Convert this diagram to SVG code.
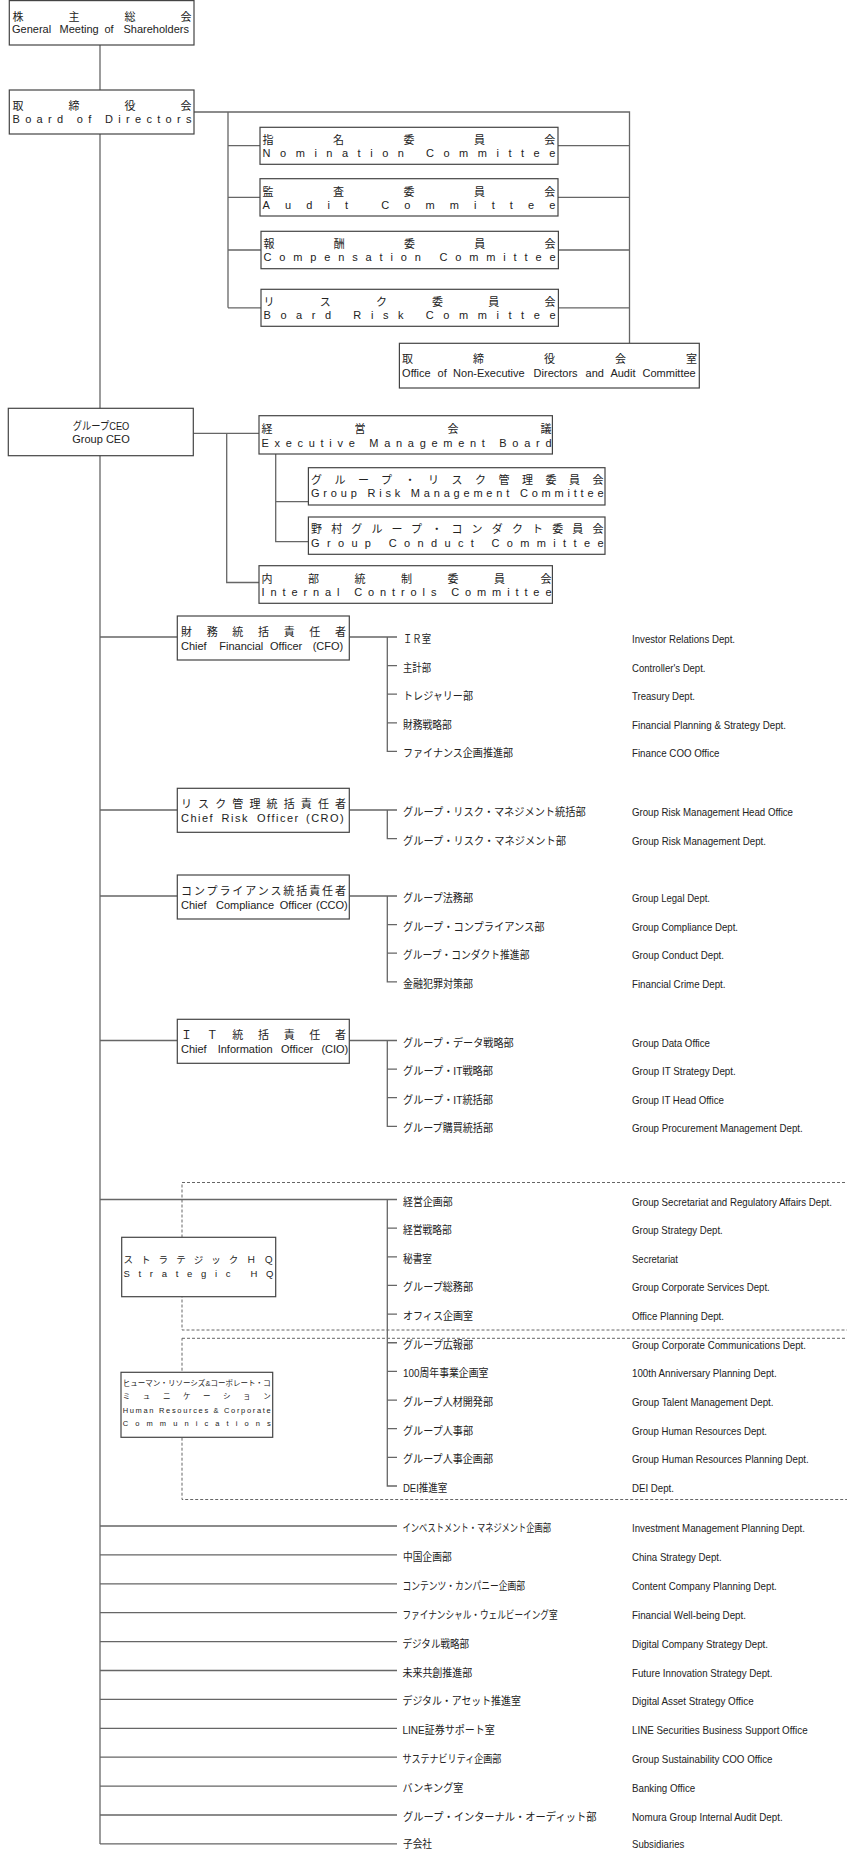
<svg xmlns="http://www.w3.org/2000/svg" width="847" height="1850" viewBox="0 0 847 1850">
<style>
.box{fill:#fff;stroke:#444;stroke-width:1.2}
.ln{fill:none;stroke:#666;stroke-width:1.3}
.dash{fill:none;stroke:#666;stroke-width:1;stroke-dasharray:3 2}
text{font-family:"Liberation Sans","Noto Sans CJK JP",Arial,sans-serif;fill:#222}
.h{font-size:11px}
.s{font-size:9.5px}
.xs{font-size:7.5px}
.l{font-size:11px}
</style>
<rect width="847" height="1850" fill="#fff"/>
<g id="frames">
<rect class="dash" x="182" y="1182.5" width="700" height="147.5"/>
<rect class="dash" x="182" y="1338.3" width="700" height="161.2"/>
</g>
<g id="connectors">
<path class="ln" d="M100 45V1844"/>
<path class="ln" d="M194 112H629.5V343.3M228 112V307.8M228 145.7H260M228 197.3H260M228 250H261M228 307.8H261M558 145.7H629.5M558 197.3H629.5M558.4 250H629.5M558.4 307.8H629.5"/>
<path class="ln" d="M193.3 433.3H259M226.7 433.3V582.5H259M275.7 454V541.7H308.4M275.7 501.7H308.4"/>
<path class="ln" d="M100 637H177.3M349.3 637H397M387.3 637V751.4H397M387.3 665.6H397M387.3 694.2H397M387.3 722.8H397"/>
<path class="ln" d="M100 810H177.3M349.3 810H397M387.3 810V838.6H397"/>
<path class="ln" d="M100 896H177.3M349.3 896H397M387.3 896V981.8H397M387.3 924.6H397M387.3 953.2H397"/>
<path class="ln" d="M100 1040.5H177.3M349.3 1040.5H397M387.3 1040.5V1126.3H397M387.3 1069.1H397M387.3 1097.7H397"/>
<path class="ln" d="M100 1199.5H397M387.3 1199.5V1486H397M387.3 1228.15H397M387.3 1256.8H397M387.3 1285.45H397M387.3 1314.1H397M387.3 1342.75H397M387.3 1371.4H397M387.3 1400.05H397M387.3 1428.7H397M387.3 1457.35H397"/>
<path class="ln" d="M100 1526H397M100 1554.9H397M100 1583.8H397M100 1612.7H397M100 1641.6H397M100 1670.5H397M100 1699.4H397M100 1728.3H397M100 1757.2H397M100 1786.1H397M100 1815H397M100 1843.9H397"/>
</g>
<g id="gm">
<rect class="box" x="9.3" y="0.6" width="184.7" height="44.4"/>
<text class="h" x="12.5" y="21" textLength="179" lengthAdjust="spacing">株主総会</text>
<text class="h" y="32.7"><tspan x="12">General</tspan><tspan x="59.5">Meeting</tspan><tspan x="104.5">of</tspan><tspan x="123.5">Shareholders</tspan></text>
</g>
<g id="board">
<rect class="box" x="9.3" y="90" width="184.7" height="44"/>
<text class="h" x="12.5" y="110" textLength="179" lengthAdjust="spacing">取締役会</text>
<text class="h" x="12.5" y="122.7" textLength="179" lengthAdjust="spacing">Board of Directors</text>
</g>
<g id="nomination">
<rect class="box" x="260" y="127.3" width="298" height="37"/>
<text class="h" x="262.6" y="144" textLength="292.7" lengthAdjust="spacing">指名委員会</text>
<text class="h" x="262.6" y="157" textLength="292.7" lengthAdjust="spacing">Nomination Committee</text>
</g>
<g id="audit">
<rect class="box" x="260" y="178.7" width="298" height="37.3"/>
<text class="h" x="262.6" y="195.6" textLength="292.7" lengthAdjust="spacing">監査委員会</text>
<text class="h" x="262.6" y="208.5" textLength="292.7" lengthAdjust="spacing">Audit Committee</text>
</g>
<g id="compensation">
<rect class="box" x="261" y="231.3" width="297.4" height="37.4"/>
<text class="h" x="263.5" y="248.3" textLength="292" lengthAdjust="spacing">報酬委員会</text>
<text class="h" x="263.5" y="261" textLength="292" lengthAdjust="spacing">Compensation Committee</text>
</g>
<g id="risk">
<rect class="box" x="261" y="289.3" width="297.4" height="37"/>
<text class="h" x="263.5" y="305.5" textLength="292" lengthAdjust="spacing">リスク委員会</text>
<text class="h" x="263.5" y="318.5" textLength="292" lengthAdjust="spacing">Board Risk Committee</text>
</g>
<g id="office">
<rect class="box" x="399.4" y="343.3" width="299.9" height="44.7"/>
<text class="h" x="402" y="363.3" textLength="295" lengthAdjust="spacing">取締役会室</text>
<text class="h" y="377"><tspan x="402.1">Office</tspan><tspan x="437.6">of</tspan><tspan x="453.1">Non-Executive</tspan><tspan x="533.6">Directors</tspan><tspan x="585.6">and</tspan><tspan x="610.4">Audit</tspan><tspan x="642.5">Committee</tspan></text>
</g>
<g id="ceo">
<rect class="box" x="8.3" y="408.3" width="185" height="47.4"/>
<text class="h" x="72.7" y="430" textLength="56.6" lengthAdjust="spacingAndGlyphs">グループCEO</text>
<text class="h" x="101" y="442.7" text-anchor="middle">Group CEO</text>
</g>
<g id="emb">
<rect class="box" x="259" y="415.7" width="293.4" height="38.3"/>
<text class="h" x="261.5" y="433.3" textLength="290" lengthAdjust="spacing">経営会議</text>
<text class="h" x="261.5" y="447" textLength="290" lengthAdjust="spacing">Executive Management Board</text>
</g>
<g id="grmc">
<rect class="box" x="308.4" y="467.7" width="296.6" height="37.3"/>
<text class="h" x="311" y="484.3" textLength="292.5" lengthAdjust="spacing">グループ・リスク管理委員会</text>
<text class="h" x="311" y="497" textLength="292.5" lengthAdjust="spacing">Group Risk Management Committee</text>
</g>
<g id="conduct">
<rect class="box" x="308.4" y="517" width="296.6" height="37.3"/>
<text class="h" x="311" y="533.3" textLength="292.5" lengthAdjust="spacing">野村グループ・コンダクト委員会</text>
<text class="h" x="311" y="546.7" textLength="292.5" lengthAdjust="spacing">Group Conduct Committee</text>
</g>
<g id="internal">
<rect class="box" x="259" y="565.7" width="293.4" height="37.6"/>
<text class="h" x="261.5" y="582.7" textLength="290" lengthAdjust="spacing">内部統制委員会</text>
<text class="h" x="261.5" y="596" textLength="290" lengthAdjust="spacing">Internal Controls Committee</text>
</g>
<g id="cfo">
<rect class="box" x="177.3" y="616" width="172" height="44"/>
<text class="h" x="181" y="636" textLength="165" lengthAdjust="spacing">財務統括責任者</text>
<text class="h" y="650"><tspan x="181">Chief</tspan><tspan x="219.3">Financial</tspan><tspan x="270">Officer</tspan><tspan x="312.7">(CFO)</tspan></text>
</g>
<g id="cro">
<rect class="box" x="177.3" y="788.3" width="172" height="44"/>
<text class="h" x="181" y="808.3" textLength="165" lengthAdjust="spacing">リスク管理統括責任者</text>
<text class="h" y="822.3" letter-spacing="1.5"><tspan x="181">Chief</tspan><tspan x="221.5">Risk</tspan><tspan x="257">Officer</tspan><tspan x="306">(CRO)</tspan></text>
</g>
<g id="cco">
<rect class="box" x="177.3" y="875" width="172" height="44"/>
<text class="h" x="181" y="895" textLength="165" lengthAdjust="spacing">コンプライアンス統括責任者</text>
<text class="h" y="909"><tspan x="181">Chief</tspan><tspan x="216">Compliance</tspan><tspan x="279.8">Officer</tspan><tspan x="316">(CCO)</tspan></text>
</g>
<g id="cio">
<rect class="box" x="177.3" y="1019.3" width="172" height="44"/>
<text class="h" x="181" y="1039.3" textLength="165" lengthAdjust="spacing">ＩＴ統括責任者</text>
<text class="h" y="1053.3"><tspan x="181">Chief</tspan><tspan x="217.7">Information</tspan><tspan x="281">Officer</tspan><tspan x="321.4">(CIO)</tspan></text>
</g>
<g id="strategic">
<rect class="box" x="121.7" y="1237.3" width="154" height="59.4"/>
<text class="s" x="123.5" y="1263.3" textLength="150" lengthAdjust="spacing">ストラテジックＨＱ</text>
<text class="s" x="123.5" y="1276.7" textLength="150" lengthAdjust="spacing">Strategic HQ</text>
</g>
<g id="hr">
<rect class="box" x="121" y="1372.3" width="151.7" height="65"/>
<text class="xs" x="122.7" y="1385.7" textLength="148" lengthAdjust="spacingAndGlyphs">ヒューマン・リソーシズ&amp;コーポレート・コ</text>
<text class="xs" x="122.7" y="1399.3" textLength="148" lengthAdjust="spacing">ミュニケーション</text>
<text class="xs" x="122.7" y="1412.7" textLength="148" lengthAdjust="spacing">Human Resources &amp; Corporate</text>
<text class="xs" x="122.7" y="1426" textLength="148" lengthAdjust="spacing">Communications</text>
</g>
<g id="depts-cfo">
<text class="l" x="403" y="643" textLength="28" lengthAdjust="spacingAndGlyphs">ＩＲ室</text>
<text class="l" x="632" y="643" textLength="103" lengthAdjust="spacingAndGlyphs">Investor Relations Dept.</text>
<text class="l" x="403" y="671.6" textLength="28" lengthAdjust="spacingAndGlyphs">主計部</text>
<text class="l" x="632" y="671.6" textLength="73.5" lengthAdjust="spacingAndGlyphs">Controller's Dept.</text>
<text class="l" x="403" y="700.2" textLength="70" lengthAdjust="spacingAndGlyphs">トレジャリー部</text>
<text class="l" x="632" y="700.2" textLength="63" lengthAdjust="spacingAndGlyphs">Treasury Dept.</text>
<text class="l" x="403" y="728.8" textLength="48.7" lengthAdjust="spacingAndGlyphs">財務戦略部</text>
<text class="l" x="632" y="728.8" textLength="154" lengthAdjust="spacingAndGlyphs">Financial Planning &amp; Strategy Dept.</text>
<text class="l" x="403" y="757.4" textLength="110" lengthAdjust="spacingAndGlyphs">ファイナンス企画推進部</text>
<text class="l" x="632" y="757.4" textLength="87.5" lengthAdjust="spacingAndGlyphs">Finance COO Office</text>
</g>
<g id="depts-cro">
<text class="l" x="403" y="816" textLength="182.6" lengthAdjust="spacingAndGlyphs">グループ・リスク・マネジメント統括部</text>
<text class="l" x="632" y="816" textLength="161" lengthAdjust="spacingAndGlyphs">Group Risk Management Head Office</text>
<text class="l" x="403" y="844.6" textLength="163" lengthAdjust="spacingAndGlyphs">グループ・リスク・マネジメント部</text>
<text class="l" x="632" y="844.6" textLength="134" lengthAdjust="spacingAndGlyphs">Group Risk Management Dept.</text>
</g>
<g id="depts-cco">
<text class="l" x="403" y="902" textLength="70" lengthAdjust="spacingAndGlyphs">グループ法務部</text>
<text class="l" x="632" y="902" textLength="78" lengthAdjust="spacingAndGlyphs">Group Legal Dept.</text>
<text class="l" x="403" y="930.6" textLength="141.5" lengthAdjust="spacingAndGlyphs">グループ・コンプライアンス部</text>
<text class="l" x="632" y="930.6" textLength="106" lengthAdjust="spacingAndGlyphs">Group Compliance Dept.</text>
<text class="l" x="403" y="959.2" textLength="126.4" lengthAdjust="spacingAndGlyphs">グループ・コンダクト推進部</text>
<text class="l" x="632" y="959.2" textLength="92" lengthAdjust="spacingAndGlyphs">Group Conduct Dept.</text>
<text class="l" x="403" y="987.8" textLength="70" lengthAdjust="spacingAndGlyphs">金融犯罪対策部</text>
<text class="l" x="632" y="987.8" textLength="93.5" lengthAdjust="spacingAndGlyphs">Financial Crime Dept.</text>
</g>
<g id="depts-cio">
<text class="l" x="403" y="1046.5" textLength="110.7" lengthAdjust="spacingAndGlyphs">グループ・データ戦略部</text>
<text class="l" x="632" y="1046.5" textLength="78" lengthAdjust="spacingAndGlyphs">Group Data Office</text>
<text class="l" x="403" y="1075.1" textLength="90" lengthAdjust="spacingAndGlyphs">グループ・IT戦略部</text>
<text class="l" x="632" y="1075.1" textLength="103.7" lengthAdjust="spacingAndGlyphs">Group IT Strategy Dept.</text>
<text class="l" x="403" y="1103.7" textLength="90" lengthAdjust="spacingAndGlyphs">グループ・IT統括部</text>
<text class="l" x="632" y="1103.7" textLength="92" lengthAdjust="spacingAndGlyphs">Group IT Head Office</text>
<text class="l" x="403" y="1132.3" textLength="90" lengthAdjust="spacingAndGlyphs">グループ購買統括部</text>
<text class="l" x="632" y="1132.3" textLength="170.7" lengthAdjust="spacingAndGlyphs">Group Procurement Management Dept.</text>
</g>
<g id="depts-strategic">
<text class="l" x="403" y="1205.5" textLength="49.7" lengthAdjust="spacingAndGlyphs">経営企画部</text>
<text class="l" x="632" y="1205.5" textLength="200" lengthAdjust="spacingAndGlyphs">Group Secretariat and Regulatory Affairs Dept.</text>
<text class="l" x="403" y="1234.15" textLength="48.6" lengthAdjust="spacingAndGlyphs">経営戦略部</text>
<text class="l" x="632" y="1234.15" textLength="90.8" lengthAdjust="spacingAndGlyphs">Group Strategy Dept.</text>
<text class="l" x="403" y="1262.8" textLength="29" lengthAdjust="spacingAndGlyphs">秘書室</text>
<text class="l" x="632" y="1262.8" textLength="46" lengthAdjust="spacingAndGlyphs">Secretariat</text>
<text class="l" x="403" y="1291.45" textLength="70" lengthAdjust="spacingAndGlyphs">グループ総務部</text>
<text class="l" x="632" y="1291.45" textLength="137.8" lengthAdjust="spacingAndGlyphs">Group Corporate Services Dept.</text>
<text class="l" x="403" y="1320.1" textLength="70" lengthAdjust="spacingAndGlyphs">オフィス企画室</text>
<text class="l" x="632" y="1320.1" textLength="92" lengthAdjust="spacingAndGlyphs">Office Planning Dept.</text>
</g>
<g id="depts-hr">
<text class="l" x="403" y="1348.75" textLength="70" lengthAdjust="spacingAndGlyphs">グループ広報部</text>
<text class="l" x="632" y="1348.75" textLength="174" lengthAdjust="spacingAndGlyphs">Group Corporate Communications Dept.</text>
<text class="l" x="403" y="1377.4" textLength="85.4" lengthAdjust="spacingAndGlyphs">100周年事業企画室</text>
<text class="l" x="632" y="1377.4" textLength="144.8" lengthAdjust="spacingAndGlyphs">100th Anniversary Planning Dept.</text>
<text class="l" x="403" y="1406.05" textLength="90" lengthAdjust="spacingAndGlyphs">グループ人材開発部</text>
<text class="l" x="632" y="1406.05" textLength="141.5" lengthAdjust="spacingAndGlyphs">Group Talent Management Dept.</text>
<text class="l" x="403" y="1434.7" textLength="70" lengthAdjust="spacingAndGlyphs">グループ人事部</text>
<text class="l" x="632" y="1434.7" textLength="135" lengthAdjust="spacingAndGlyphs">Group Human Resources Dept.</text>
<text class="l" x="403" y="1463.35" textLength="90" lengthAdjust="spacingAndGlyphs">グループ人事企画部</text>
<text class="l" x="632" y="1463.35" textLength="176.7" lengthAdjust="spacingAndGlyphs">Group Human Resources Planning Dept.</text>
<text class="l" x="403" y="1492" textLength="44.3" lengthAdjust="spacingAndGlyphs">DEI推進室</text>
<text class="l" x="632" y="1492" textLength="42" lengthAdjust="spacingAndGlyphs">DEI Dept.</text>
</g>
<g id="depts-direct">
<text class="l" x="402.5" y="1532" textLength="148.6" lengthAdjust="spacingAndGlyphs">インベストメント・マネジメント企画部</text>
<text class="l" x="632" y="1532" textLength="172.9" lengthAdjust="spacingAndGlyphs">Investment Management Planning Dept.</text>
<text class="l" x="403" y="1560.9" textLength="48.6" lengthAdjust="spacingAndGlyphs">中国企画部</text>
<text class="l" x="632" y="1560.9" textLength="89.7" lengthAdjust="spacingAndGlyphs">China Strategy Dept.</text>
<text class="l" x="402.5" y="1589.8" textLength="122.6" lengthAdjust="spacingAndGlyphs">コンテンツ・カンパニー企画部</text>
<text class="l" x="632" y="1589.8" textLength="144.8" lengthAdjust="spacingAndGlyphs">Content Company Planning Dept.</text>
<text class="l" x="402.5" y="1618.7" textLength="155" lengthAdjust="spacingAndGlyphs">ファイナンシャル・ウェルビーイング室</text>
<text class="l" x="632" y="1618.7" textLength="114" lengthAdjust="spacingAndGlyphs">Financial Well-being Dept.</text>
<text class="l" x="402.5" y="1647.6" textLength="66.5" lengthAdjust="spacingAndGlyphs">デジタル戦略部</text>
<text class="l" x="632" y="1647.6" textLength="136" lengthAdjust="spacingAndGlyphs">Digital Company Strategy Dept.</text>
<text class="l" x="402.5" y="1676.5" textLength="69.7" lengthAdjust="spacingAndGlyphs">未来共創推進部</text>
<text class="l" x="632" y="1676.5" textLength="140.5" lengthAdjust="spacingAndGlyphs">Future Innovation Strategy Dept.</text>
<text class="l" x="402.5" y="1705.4" textLength="118.3" lengthAdjust="spacingAndGlyphs">デジタル・アセット推進室</text>
<text class="l" x="632" y="1705.4" textLength="121.6" lengthAdjust="spacingAndGlyphs">Digital Asset Strategy Office</text>
<text class="l" x="402.5" y="1734.3" textLength="92.4" lengthAdjust="spacingAndGlyphs">LINE証券サポート室</text>
<text class="l" x="632" y="1734.3" textLength="175.6" lengthAdjust="spacingAndGlyphs">LINE Securities Business Support Office</text>
<text class="l" x="402.5" y="1763.2" textLength="98.9" lengthAdjust="spacingAndGlyphs">サステナビリティ企画部</text>
<text class="l" x="632" y="1763.2" textLength="140.5" lengthAdjust="spacingAndGlyphs">Group Sustainability COO Office</text>
<text class="l" x="402.5" y="1792.1" textLength="61" lengthAdjust="spacingAndGlyphs">バンキング室</text>
<text class="l" x="632" y="1792.1" textLength="63.2" lengthAdjust="spacingAndGlyphs">Banking Office</text>
<text class="l" x="403" y="1821" textLength="193.4" lengthAdjust="spacingAndGlyphs">グループ・インターナル・オーディット部</text>
<text class="l" x="632" y="1821" textLength="150.7" lengthAdjust="spacingAndGlyphs">Nomura Group Internal Audit Dept.</text>
<text class="l" x="403" y="1848" textLength="29" lengthAdjust="spacingAndGlyphs">子会社</text>
<text class="l" x="632" y="1848" textLength="52.4" lengthAdjust="spacingAndGlyphs">Subsidiaries</text>
</g>
</svg>
